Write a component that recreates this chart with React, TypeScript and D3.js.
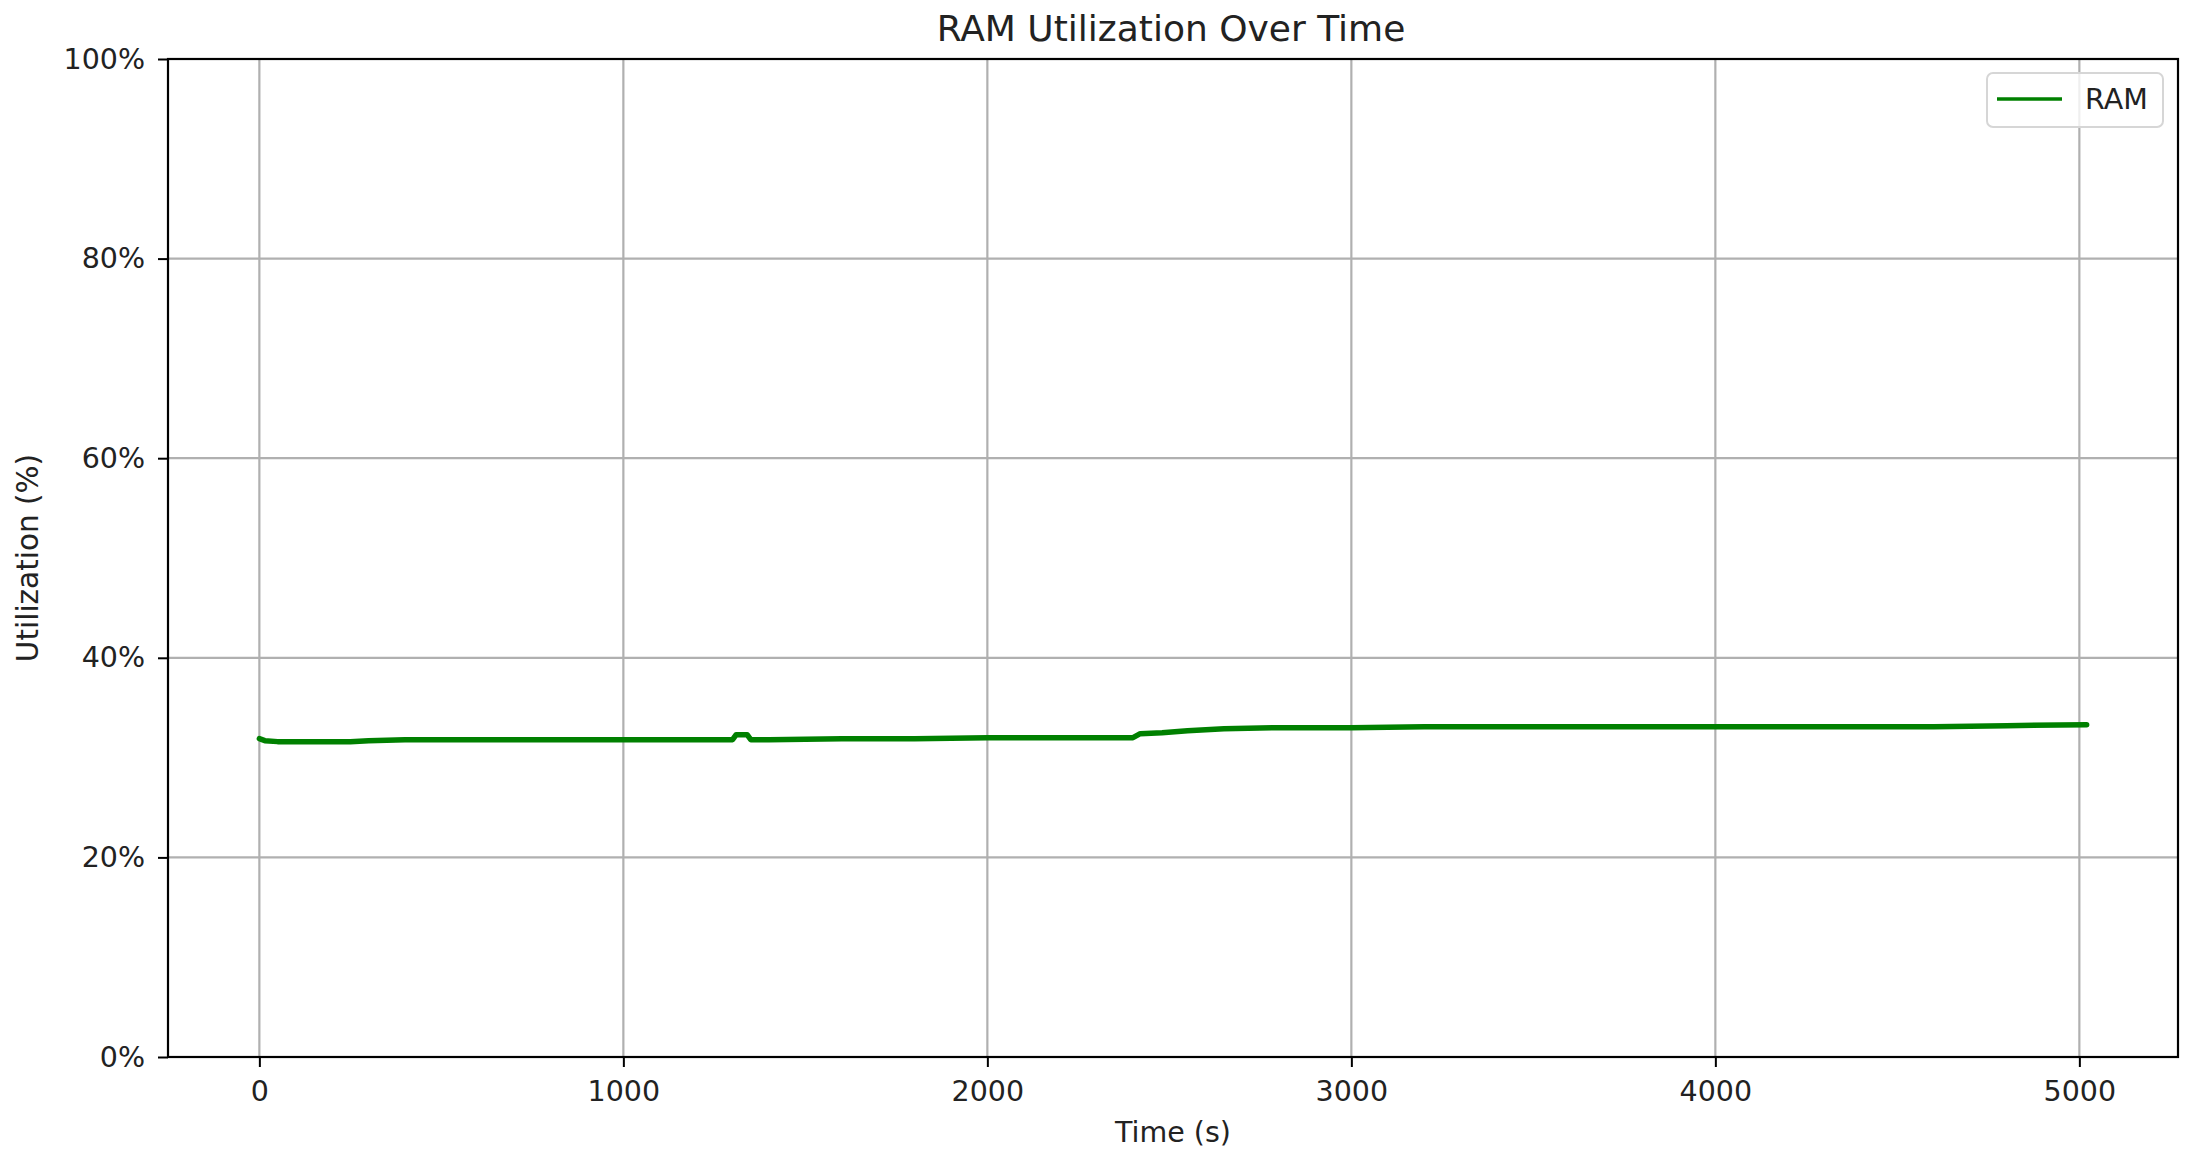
import React, { useRef, useEffect } from 'react';
import * as d3 from 'd3';

// RAM samples (time in s, utilization in %)
const times = [0, 15, 50, 150, 250, 300, 400, 600, 800, 1000, 1200, 1300, 1310, 1340, 1350, 1400, 1600, 1800, 2000, 2200, 2400, 2420, 2480, 2550, 2650, 2800, 3000, 3200, 3500, 3800, 4000, 4300, 4600, 4800, 5020];
const ramValues = [31.9, 31.7, 31.6, 31.6, 31.6, 31.7, 31.8, 31.8, 31.8, 31.8, 31.8, 31.8, 32.3, 32.3, 31.8, 31.8, 31.9, 31.9, 32.0, 32.0, 32.0, 32.4, 32.5, 32.7, 32.9, 33.0, 33.0, 33.1, 33.1, 33.1, 33.1, 33.1, 33.1, 33.2, 33.3];
const xTicks = [0, 1000, 2000, 3000, 4000, 5000];
const yTicks = [0, 20, 40, 60, 80, 100];

function App() {
  const svgRef = useRef(null);

  useEffect(() => {
    document.body.style.margin = '0';
    const width = 2195;
    const height = 1163;
    const margin = { left: 168, right: 17, top: 59, bottom: 106 };
    const font = 'DejaVu Sans, sans-serif';

    const svg = d3.select(svgRef.current);
    svg.selectAll('*').remove();
    svg.attr('width', width).attr('height', height).style('font-family', font);

    const x = d3.scaleLinear()
      .domain([-251, 5271])
      .range([margin.left, width - margin.right]);
    const y = d3.scaleLinear()
      .domain([0, 100])
      .range([height - margin.bottom, margin.top]);

    const data = times.map((t, i) => ({ t, v: ramValues[i] }));

    // grid
    svg.append('g').selectAll('line')
      .data(xTicks)
      .join('line')
        .attr('x1', d => x(d)).attr('x2', d => x(d))
        .attr('y1', y(0)).attr('y2', y(100))
        .attr('stroke', '#b0b0b0').attr('stroke-width', 2.2);
    svg.append('g').selectAll('line')
      .data(yTicks)
      .join('line')
        .attr('x1', x.range()[0]).attr('x2', x.range()[1])
        .attr('y1', d => y(d)).attr('y2', d => y(d))
        .attr('stroke', '#b0b0b0').attr('stroke-width', 2.2);

    // line
    const line = d3.line()
      .x(d => x(d.t))
      .y(d => y(d.v));
    svg.append('path')
      .datum(data)
      .attr('d', line)
      .attr('fill', 'none')
      .attr('stroke', '#008000')
      .attr('stroke-width', 5.5)
      .attr('stroke-linejoin', 'round')
      .attr('stroke-linecap', 'round');

    // axes
    const xAxis = svg.append('g')
      .attr('transform', `translate(0,${y(0)})`)
      .call(d3.axisBottom(x).tickValues(xTicks).tickFormat(d3.format('d')).tickSize(10).tickPadding(14));
    const yAxis = svg.append('g')
      .attr('transform', `translate(${x.range()[0]},0)`)
      .call(d3.axisLeft(y).tickValues(yTicks).tickFormat(d => `${d}%`).tickSize(10).tickPadding(13));
    [xAxis, yAxis].forEach(a => {
      a.select('.domain').remove();
      a.selectAll('line').attr('stroke', '#000').attr('stroke-width', 2);
      a.selectAll('text').attr('font-size', 28.5).attr('font-family', font).attr('fill', '#222');
    });

    // frame
    svg.append('rect')
      .attr('x', x.range()[0]).attr('y', y(100))
      .attr('width', x.range()[1] - x.range()[0])
      .attr('height', y(0) - y(100))
      .attr('fill', 'none').attr('stroke', '#000').attr('stroke-width', 2.2);

    // labels
    svg.append('text')
      .attr('x', (x.range()[0] + x.range()[1]) / 2 - 2).attr('y', 41)
      .attr('text-anchor', 'middle').attr('font-size', 36).attr('fill', '#222')
      .text('RAM Utilization Over Time');
    svg.append('text')
      .attr('x', (x.range()[0] + x.range()[1]) / 2).attr('y', 1142)
      .attr('text-anchor', 'middle').attr('font-size', 28.5).attr('fill', '#222')
      .text('Time (s)');
    svg.append('text')
      .attr('transform', `translate(38,${(y(0) + y(100)) / 2}) rotate(-90)`)
      .attr('text-anchor', 'middle').attr('font-size', 29.5).attr('fill', '#222')
      .text('Utilization (%)');

    // legend
    const lg = svg.append('g');
    lg.append('rect')
      .attr('x', 1987).attr('y', 73).attr('width', 176).attr('height', 54)
      .attr('rx', 6).attr('fill', 'rgba(255,255,255,0.8)')
      .attr('stroke', '#d6d6d6').attr('stroke-width', 2);
    lg.append('line')
      .attr('x1', 1997).attr('x2', 2062).attr('y1', 99).attr('y2', 99)
      .attr('stroke', '#008000').attr('stroke-width', 3.5);
    lg.append('text')
      .attr('x', 2085).attr('y', 109)
      .attr('font-size', 28.5).attr('fill', '#222')
      .text('RAM');
  }, []);

  return <svg ref={svgRef} style={{ display: 'block' }}></svg>;
}

export default App;
